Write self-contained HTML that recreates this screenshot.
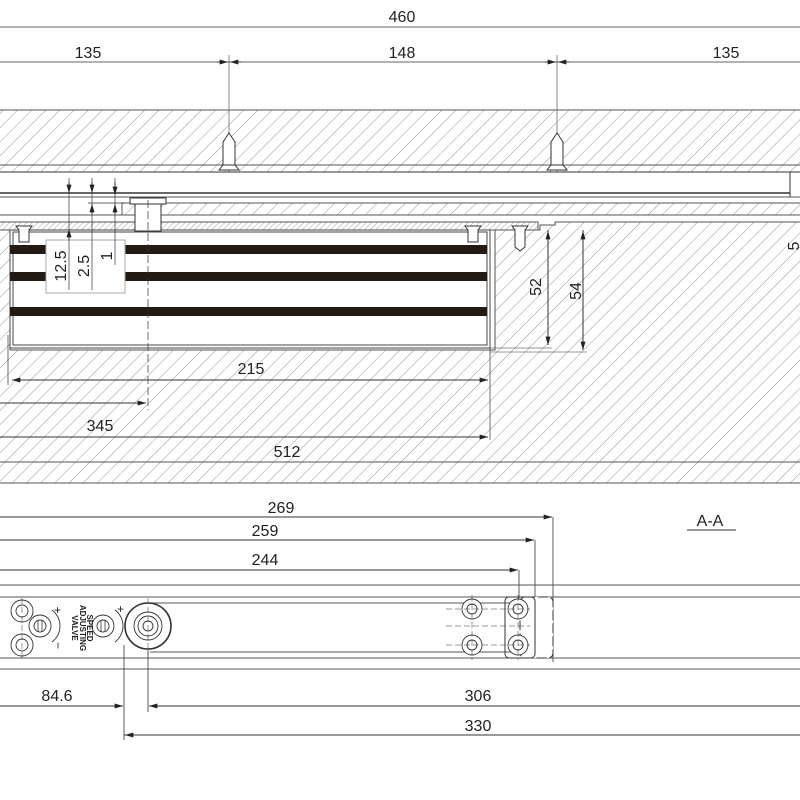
<!DOCTYPE html>
<html><head><meta charset="utf-8"><style>html,body{margin:0;padding:0;background:#fff}svg{display:block}text{font-family:"Liberation Sans",sans-serif;fill:#222}</style></head><body>
<svg width="800" height="800" viewBox="0 0 800 800" xmlns="http://www.w3.org/2000/svg">
<defs>
<pattern id="h" patternUnits="userSpaceOnUse" width="10" height="10" patternTransform="rotate(45)">
<line x1="0" y1="0" x2="0" y2="10" stroke="#8a8a8a" stroke-width="0.9"/></pattern>
<pattern id="hf" patternUnits="userSpaceOnUse" width="4" height="4" patternTransform="rotate(45)">
<line x1="0" y1="0" x2="0" y2="4" stroke="#888" stroke-width="0.8"/></pattern>
<marker id="a" viewBox="0 0 10 6" refX="10" refY="3" markerWidth="9" markerHeight="5" orient="auto"><path d="M0,0L10,3L0,6z" fill="#222"/></marker>
</defs>
<g stroke="#333" stroke-width="1" fill="none">
<!-- top dims -->
<line x1="0" y1="27" x2="800" y2="27" stroke="#666"/>
<line x1="0" y1="62" x2="800" y2="62" stroke="#666"/>
<line x1="229" y1="55" x2="229" y2="178" stroke="#555" stroke-width="0.7"/>
<line x1="557" y1="55" x2="557" y2="178" stroke="#555" stroke-width="0.7"/>
<path d="M217,62h11" marker-end="url(#a)"/><path d="M241,62h-11" marker-end="url(#a)"/>
<path d="M545,62h11" marker-end="url(#a)"/><path d="M569,62h-11" marker-end="url(#a)"/>
<!-- ceiling -->
<rect x="-2" y="110" width="804" height="55" fill="url(#h)" stroke="#555"/>
<rect x="-2" y="165" width="804" height="7" fill="url(#h)" stroke="#555"/>
<g fill="#fff"><path d="M223,142l6,-9l6,9v23h-12z"/><path d="M551,142l6,-9l6,9v23h-12z"/>
<path d="M219,170l4,-5h12l4,5z"/><path d="M547,170l4,-5h12l4,5z"/></g>
<!-- rail -->
<rect x="-2" y="172" width="792" height="21" fill="#fff"/>
<line x1="0" y1="193" x2="790" y2="193" stroke-width="1.5"/>
<rect x="790" y="172" width="12" height="25" fill="#fff"/>
<line x1="0" y1="197" x2="800" y2="197" stroke="#555"/>
<rect x="122" y="203" width="680" height="12" fill="url(#h)" stroke="#555"/>
<line x1="0" y1="215" x2="800" y2="215" stroke="#555"/>
<rect x="-2" y="222" width="540" height="8" fill="url(#hf)" stroke="#555"/>
<path d="M-2,230H10V350H495V230H540V225H555V222H802V462H-2Z" fill="url(#h)" stroke="#555"/>
<rect x="-2" y="462" width="804" height="21" fill="url(#h)" stroke="#555"/>
<!-- body -->
<rect x="10" y="230" width="480" height="118" fill="#fff" stroke="#444"/>
<rect x="13" y="232" width="474" height="113" fill="#fff" stroke="#444"/>
<g fill="#231a14" stroke="none"><rect x="10" y="245" width="477" height="9"/><rect x="10" y="272" width="477" height="9"/><rect x="10" y="307" width="477" height="9"/></g>
<rect x="46" y="240" width="79" height="53" fill="#fff" stroke="#aaa"/>
<rect x="130" y="198" width="36" height="6" fill="#fff"/>
<rect x="135" y="204" width="26" height="27" fill="#fff"/>
<line x1="148" y1="200" x2="148" y2="410" stroke-dasharray="8,3" stroke-width="0.7"/>
<g fill="#fff"><path d="M16,226h16l-3,4v12h-10v-12z"/><path d="M465,226h16l-3,4v12h-10v-12z"/><path d="M512,226h16l-3,4v17l-5,4l-5,-4v-17z"/></g>
<!-- 12.5 etc -->
<line x1="69" y1="178" x2="69" y2="290" stroke-width="0.7"/><line x1="92" y1="178" x2="92" y2="290" stroke-width="0.7"/><line x1="115" y1="178" x2="115" y2="265" stroke-width="0.7"/>
<path d="M69,182V193" marker-end="url(#a)"/><path d="M92,182V193" marker-end="url(#a)"/><path d="M115,182V195" marker-end="url(#a)"/>
<path d="M69,240V229" marker-end="url(#a)"/><path d="M92,214V204" marker-end="url(#a)"/><path d="M115,214V204" marker-end="url(#a)"/>
<line x1="88" y1="203" x2="125" y2="203" stroke-width="0.7"/>
<!-- 52/54 -->
<line x1="548" y1="230" x2="548" y2="345"/><line x1="583" y1="230" x2="583" y2="350"/>
<path d="M548,290V231" marker-end="url(#a)"/><path d="M548,290V345" marker-end="url(#a)"/>
<path d="M583,290V231" marker-end="url(#a)"/><path d="M583,290V350" marker-end="url(#a)"/>
<line x1="490" y1="348" x2="552" y2="348" stroke-width="0.6"/>
<line x1="490" y1="352" x2="587" y2="352" stroke-width="0.6"/>
<!-- lower dims -->
<path d="M250,380H12" marker-end="url(#a)"/><path d="M250,380H488" marker-end="url(#a)"/>
<line x1="0" y1="403" x2="80" y2="403"/><path d="M80,403H146" marker-end="url(#a)"/>
<line x1="0" y1="437" x2="280" y2="437"/><path d="M280,437H488" marker-end="url(#a)"/>
<line x1="490" y1="348" x2="490" y2="440" stroke-width="0.7"/>
<line x1="8" y1="335" x2="8" y2="385" stroke-width="0.7"/>
<!-- bottom view dims -->
<path d="M0,517H552" marker-end="url(#a)"/><path d="M0,540H534" marker-end="url(#a)"/><path d="M0,570H518" marker-end="url(#a)"/>
<line x1="553" y1="517" x2="553" y2="662" stroke-width="0.8"/>
<line x1="535" y1="540" x2="535" y2="600" stroke-width="0.8"/>
<line x1="519" y1="570" x2="519" y2="600" stroke-width="0.8"/>
<line x1="687" y1="530" x2="736" y2="530"/>
<!-- bottom body -->
<line x1="0" y1="585" x2="800" y2="585" stroke="#555"/>
<line x1="0" y1="597" x2="800" y2="597" stroke="#555"/>
<line x1="150" y1="603" x2="535" y2="603" stroke="#555"/>
<line x1="150" y1="652" x2="535" y2="652" stroke="#555"/>
<line x1="0" y1="658" x2="800" y2="658" stroke="#555"/>
<line x1="0" y1="669" x2="800" y2="669" stroke="#555"/>
<rect x="520" y="597" width="33" height="61" rx="5" fill="#fff" stroke-dasharray="10,3"/>
<rect x="505" y="597" width="30" height="61" rx="4" fill="none"/>
<g fill="#fff" stroke-width="0.9">
<circle cx="22" cy="611" r="11"/><circle cx="22" cy="611" r="6"/>
<circle cx="22" cy="645" r="11"/><circle cx="22" cy="645" r="6"/>
<circle cx="40" cy="626" r="11"/><circle cx="40" cy="626" r="6"/>
<circle cx="103" cy="626" r="11"/><circle cx="103" cy="626" r="6"/>
<circle cx="472" cy="609" r="10"/><circle cx="472" cy="609" r="5"/>
<circle cx="518" cy="609" r="10"/><circle cx="518" cy="609" r="5"/>
<circle cx="472" cy="645" r="10"/><circle cx="472" cy="645" r="5"/>
<circle cx="518" cy="645" r="10"/><circle cx="518" cy="645" r="5"/>
<circle cx="148" cy="626" r="23" stroke-width="1.6"/><circle cx="148" cy="626" r="14"/><circle cx="148" cy="626" r="10"/><circle cx="148" cy="626" r="5"/>
</g>
<path d="M38,620v12M42,620v12M101,620v12M105,620v12" stroke-width="0.8"/>
<path d="M52,610a20,20 0 0 1 0,32M115,610a20,20 0 0 1 0,32" stroke-width="0.9"/>
<path d="M446,626H530M446,609H530M446,645H530M472,595V660M518,595V660M22,598V658M148,598V655" stroke-dasharray="6,3" stroke-width="0.5"/>
<!-- bottom dims -->
<line x1="124" y1="645" x2="124" y2="740" stroke-width="0.8"/>
<line x1="148" y1="650" x2="148" y2="712" stroke-width="0.8"/>
<line x1="0" y1="706" x2="122" y2="706"/><line x1="150" y1="706" x2="800" y2="706"/>
<path d="M100,706H123" marker-end="url(#a)"/><path d="M172,706H149" marker-end="url(#a)"/>
<line x1="124" y1="735" x2="800" y2="735"/><path d="M150,735H125" marker-end="url(#a)"/>
</g>
<g font-size="16">
<text x="402" y="22" text-anchor="middle">460</text>
<text x="88" y="58" text-anchor="middle">135</text>
<text x="402" y="58" text-anchor="middle">148</text>
<text x="726" y="58" text-anchor="middle">135</text>
<text x="251" y="374" text-anchor="middle">215</text>
<text x="100" y="431" text-anchor="middle">345</text>
<text x="287" y="457" text-anchor="middle">512</text>
<text x="281" y="513" text-anchor="middle">269</text>
<text x="265" y="536" text-anchor="middle">259</text>
<text x="265" y="565" text-anchor="middle">244</text>
<text x="710" y="526" text-anchor="middle">A-A</text>
<text x="57" y="701" text-anchor="middle">84.6</text>
<text x="478" y="701" text-anchor="middle">306</text>
<text x="478" y="731" text-anchor="middle">330</text>
<text transform="translate(66,266) rotate(-90)" text-anchor="middle">12.5</text>
<text transform="translate(89,266) rotate(-90)" text-anchor="middle">2.5</text>
<text transform="translate(112,256) rotate(-90)" text-anchor="middle">1</text>
<text transform="translate(541,287) rotate(-90)" text-anchor="middle">52</text>
<text transform="translate(581,291) rotate(-90)" text-anchor="middle">54</text>
<text transform="translate(799,246) rotate(-90)" text-anchor="middle">5</text>
</g>
<g font-size="8" font-weight="bold">
<text transform="translate(87,628) rotate(90)" text-anchor="middle">SPEED</text>
<text transform="translate(80,628) rotate(90)" text-anchor="middle">ADJUSTING</text>
<text transform="translate(72,628) rotate(90)" text-anchor="middle">VALVE</text>
</g>
<g font-size="12"><text x="54" y="614">+</text><text x="117" y="613">+</text><text transform="translate(54,642) rotate(90)">−</text></g>
</svg>
</body></html>
